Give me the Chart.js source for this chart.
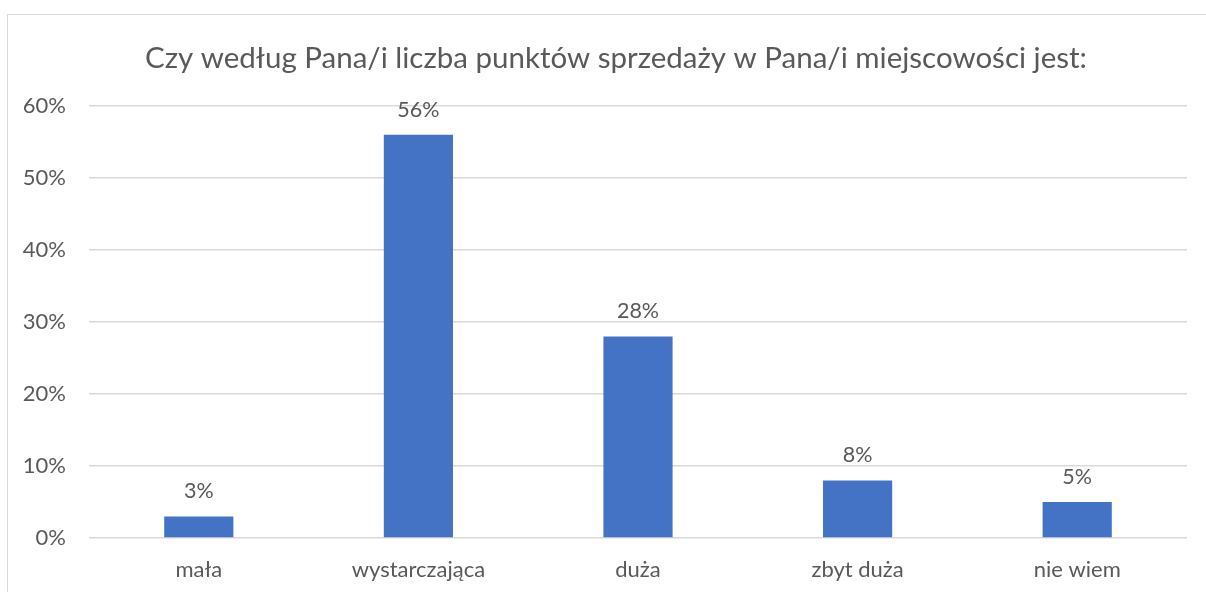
<!DOCTYPE html>
<html>
<head>
<meta charset="utf-8">
<script src="https://cdn.jsdelivr.net/npm/chart.js@4"></script>
<style>
  html, body { margin: 0; padding: 0; background: #fff; overflow: hidden; }
  #ramka { position: absolute; left: 7px; top: 14px; width: 1220px; height: 600px; border: 1px solid #d9d9d9; }
  #wykres { position: absolute; left: 0; top: 0; }
</style>
</head>
<body>
<div id="ramka"></div>
<canvas id="wykres" width="1206" height="592"></canvas>
<script>
var kategorie = ['mała', 'wystarczająca', 'duża', 'zbyt duża', 'nie wiem'];
var wartosci = [0.03, 0.56, 0.28, 0.08, 0.05];
var tytul = 'Czy według Pana/i liczba punktów sprzedaży w Pana/i miejscowości jest:';

var czcionka = 'Lato, "Open Sans", sans-serif';
var szary = '#595959';

// tytuł (wyśrodkowany jak w Excelu, nie nad samym wykresem) i etykiety nad słupkami
var etykietyDanych = {
    id: 'etykietyDanych',
    afterDatasetsDraw: function (chart) {
        var ctx = chart.ctx;
        var meta = chart.getDatasetMeta(0);
        ctx.save();
        ctx.fillStyle = szary;
        ctx.textAlign = 'center';
        ctx.textBaseline = 'middle';
        ctx.font = '29.5px ' + czcionka;
        ctx.fillText(tytul, 616, 58);
        ctx.font = '21.5px ' + czcionka;
        meta.data.forEach(function (bar, i) {
            ctx.fillText(Math.round(wartosci[i] * 100) + '%', bar.x, bar.y - 25);
        });
        ctx.restore();
    }
};

var ctx = document.getElementById('wykres').getContext('2d');
var wykres = new Chart(ctx, {
    type: 'bar',
    data: {
        labels: kategorie,
        datasets: [{
            data: wartosci,
            backgroundColor: '#4472C4',
            barPercentage: 0.63,
            categoryPercentage: 0.5
        }]
    },
    options: {
        responsive: false,
        animation: false,
        layout: { padding: { left: 0, right: 19, top: 106, bottom: 0 } },
        plugins: {
            legend: { display: false },
            tooltip: { enabled: false },
            title: { display: false }
        },
        scales: {
            x: {
                grid: { display: false, drawTicks: false },
                border: { display: false },
                ticks: { color: szary, font: { family: czcionka, size: 22 }, padding: 19 },
                afterFit: function (s) { s.height = 54; }
            },
            y: {
                min: 0,
                max: 0.6,
                grid: { color: '#d9d9d9', lineWidth: 1.5, drawTicks: false },
                border: { display: false },
                ticks: {
                    stepSize: 0.1,
                    color: szary,
                    padding: 23,
                    font: { family: czcionka, size: 22 },
                    callback: function (v) { return Math.round(v * 100) + '%'; }
                },
                afterFit: function (s) { s.width = 89; }
            }
        }
    },
    plugins: [etykietyDanych]
});
</script>
</body>
</html>
